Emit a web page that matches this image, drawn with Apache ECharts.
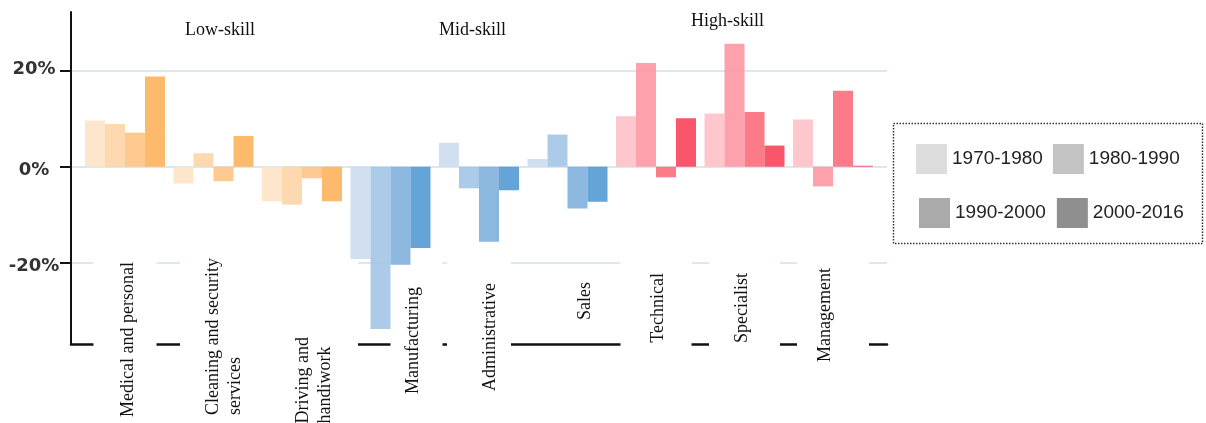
<!DOCTYPE html>
<html><head><meta charset="utf-8">
<script src="https://cdn.jsdelivr.net/npm/echarts@6/dist/echarts.min.js"></script>
<style>html,body{margin:0;padding:0;background:#fff}#c{width:1206px;height:423px}</style>
</head><body><div id="c"></div>
<script>
// ---------- data ----------
const CATEGORIES = ['Medical and personal', 'Cleaning and security\nservices', 'Driving and\nhandiwork',
  'Manufacturing', 'Administrative', 'Sales', 'Technical', 'Specialist', 'Management'];
const SKILL_GROUPS = ['Low-skill', 'Mid-skill', 'High-skill'];
const CATEGORY_GROUP = [0, 0, 0, 1, 1, 1, 2, 2, 2];
const PERIODS = ['1970-1980', '1980-1990', '1990-2000', '2000-2016'];
const CHANGE_1970_1980 = [9.6, -3.5, -7.2, -19.2, 5.0, 1.6, 10.5, 11.1, 9.8];
const CHANGE_1980_1990 = [8.9, 2.8, -7.9, -33.8, -4.5, 6.7, 21.6, 25.6, -4.1];
const CHANGE_1990_2000 = [7.1, -3.0, -2.4, -20.4, -15.6, -8.7, -2.2, 11.4, 15.8];
const CHANGE_2000_2016 = [18.8, 6.4, -7.2, -16.9, -4.9, -7.3, 10.1, 4.4, 0.2];
const Y_TICKS = [-20, 0, 20];

// ---------- styles ----------
const GROUP_COLORS = [
  ['#fee3c5', '#fed3a3', '#fec180', '#feb158'],
  ['#c9dcef', '#a0c4e5', '#7caedc', '#4f97d2'],
  ['#febec6', '#fd94a0', '#fa6978', '#f83f56']
];
const LEGEND_COLORS = ['#dcdcdc', '#c3c3c3', '#aaaaaa', '#8f8f8f'];
// label boxes (rotated frame padding: [screen-left, screen-top, screen-right, screen-bottom])
const LABEL_BOX = [
  {pad: [23.5, 5, 17.5, 2], bg: true},
  {pad: [22.5, 1, 0.5, 2], bg: true},
  {pad: [46.5, 80, 21.5, 2], bg: true},
  {pad: [11.5, 30, 18.5, 2], bg: true, va: 'top'},
  {pad: [32.5, 26, 9.5, 2], bg: true},
  {pad: [35, 25, 0, 2], bg: false},
  {pad: [27, 16, 22, 6], bg: true},
  {pad: [22, 16, 27, 7], bg: true},
  {pad: [17.5, 11, 32.5, 2], bg: true}
];
const TITLE_POS = [[185, 21], [439, 21], [691, 12]];

const Y_MIN = -36.9, Y_MAX = 32.2;
const periodValues = [CHANGE_1970_1980, CHANGE_1980_1990, CHANGE_1990_2000, CHANGE_2000_2016];

const chart = echarts.init(document.getElementById('c'), null, {renderer: 'canvas'});
const serif = 'Liberation Serif';
const yLabelFont = {fontFamily: 'DejaVu Sans', fontWeight: 'bold', fontSize: 18, color: '#333'};

const option = {
  animation: false,
  backgroundColor: '#fff',
  title: SKILL_GROUPS.map((t, i) => ({
    text: t, left: TITLE_POS[i][0], top: TITLE_POS[i][1], padding: 0,
    textStyle: {fontFamily: serif, fontSize: 18, fontWeight: 'normal', color: '#111'}
  })),
  grid: [
    {left: 71, right: 319, top: 12, bottom: 79, outerBoundsMode: 'none', containLabel: false},
    {left: 80.75, right: 328.75, top: 12, bottom: 79, outerBoundsMode: 'none', containLabel: false}
  ],
  xAxis: [
    {gridIndex: 0, type: 'value', min: 0, max: 1, z: 0,
      axisLine: {show: true, onZero: false, lineStyle: {color: '#111', width: 2.5}},
      axisTick: {show: false}, axisLabel: {show: false}, splitLine: {show: false}},
    {gridIndex: 1, type: 'category', z: 1,
      data: CATEGORIES.map((c, i) => ({
        value: c,
        textStyle: Object.assign({
          padding: LABEL_BOX[i].pad,
          backgroundColor: LABEL_BOX[i].bg ? '#ffffff' : 'transparent'
        }, LABEL_BOX[i].va ? {verticalAlign: LABEL_BOX[i].va} : {})
      })),
      axisLine: {show: false, onZero: false}, axisTick: {show: false}, splitLine: {show: false},
      axisLabel: {
        show: true, interval: 0, rotate: 90, margin: -87, hideOverlap: false,
        formatter: v => v.split('\n').map(l => '{a|' + l + '}').join('\n'),
        rich: {a: {fontFamily: serif, fontSize: 18, lineHeight: 22, color: '#111', align: 'left'}}
      }}
  ],
  yAxis: [
    {gridIndex: 0, type: 'value', min: Y_MIN, max: Y_MAX, z: 0,
      axisLine: {show: true, onZero: false, lineStyle: {color: '#111', width: 2}},
      axisTick: {show: true, customValues: Y_TICKS, length: 11, lineStyle: {color: '#111', width: 2}},
      axisLabel: {show: true, customValues: Y_TICKS, align: 'center', margin: 37,
        formatter: v => (Math.round(v) < 0 || Math.round(v) === 0 ? '{lo|' : '{hi|') + Math.round(v) + '%}',
        rich: {
          hi: Object.assign({padding: [0, 0, 2, 0]}, yLabelFont),
          lo: Object.assign({padding: [7, 0, 0, 0]}, yLabelFont)
        }},
      splitLine: {show: true, lineStyle: {color: '#dbe8ee', width: 2}}},
    {gridIndex: 1, type: 'value', min: Y_MIN, max: Y_MAX, show: false, splitLine: {show: false}}
  ],
  legend: [
    {left: 916, top: 144, padding: 0, itemWidth: 31, itemHeight: 30, itemGap: 10, icon: 'rect',
      selectedMode: false,
      data: PERIODS.slice(0, 2).map((p, i) => ({name: p, itemStyle: {color: LEGEND_COLORS[i], opacity: 1, borderWidth: 0}})),
      textStyle: {fontFamily: 'Liberation Sans', fontSize: 19, color: '#222'}},
    {left: 919, top: 198, padding: 0, itemWidth: 31, itemHeight: 30, itemGap: 11, icon: 'rect',
      selectedMode: false,
      data: PERIODS.slice(2).map((p, i) => ({name: p, itemStyle: {color: LEGEND_COLORS[i + 2], opacity: 1, borderWidth: 0}})),
      textStyle: {fontFamily: 'Liberation Sans', fontSize: 19, color: '#222'}}
  ],
  graphic: [{
    type: 'rect', shape: {x: 893.5, y: 123.5, width: 309, height: 120}, z: 100,
    style: {fill: 'none', stroke: '#333', lineWidth: 1.5, lineDash: [1.5, 1.5]}
  }],
  series: PERIODS.map((p, si) => ({
    name: p, type: 'bar', xAxisIndex: 1, yAxisIndex: 1, z: 2,
    barGap: '0%', barCategoryGap: '9.6%',
    itemStyle: {color: LEGEND_COLORS[si], opacity: 0.88},
    emphasis: {disabled: true},
    data: periodValues[si].map((v, ci) => ({value: v, itemStyle: {color: GROUP_COLORS[CATEGORY_GROUP[ci]][si]}}))
  }))
};
chart.setOption(option);
</script>
</body></html>
